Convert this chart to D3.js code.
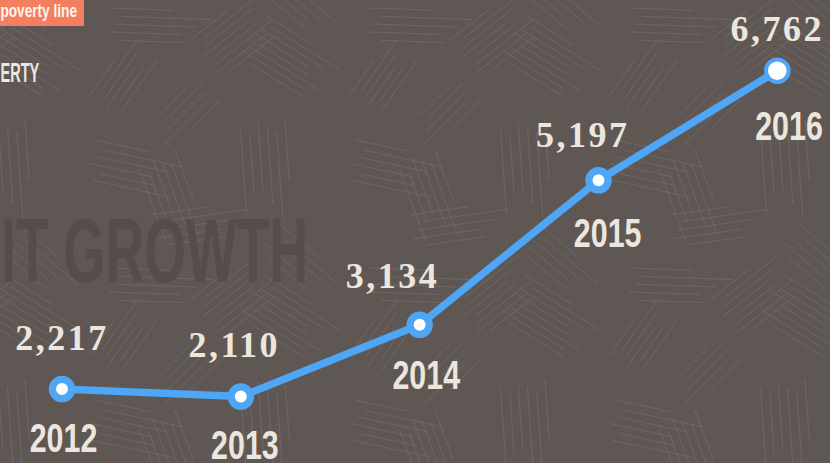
<!DOCTYPE html>
<html>
<head>
<meta charset="utf-8">
<script src="https://cdn.jsdelivr.net/npm/d3@7"></script>
<style>
  html, body { margin: 0; padding: 0; background: #5f5754; }
  svg { display: block; }
</style>
</head>
<body>
<svg id="chart" width="830" height="463"></svg>
<script>
// ---- data ----
const years = ["2012", "2013", "2014", "2015", "2016"];
const values = [2217, 2110, 3134, 5197, 6762];
const valueLabels = ["2,217", "2,110", "3,134", "5,197", "6,762"];
const yearLabels = ["2012", "2013", "2014", "2015", "2016"];
const watermarkText = "IT GROWTH";
const headerTag = "poverty line";
const headerWord = "ERTY";

const W = 830, H = 463;
const svg = d3.select("#chart");

// ---- background texture (decoration) ----
const defs = svg.append("defs");
const T = 260;
const pat = defs.append("pattern")
  .attr("id", "tex").attr("patternUnits", "userSpaceOnUse")
  .attr("width", T).attr("height", T);
const clusters = [
  {x: 5, y: 15, len: 80, ang: 32, n: 8, gap: 7},
  {x: 110, y: 8, len: 90, ang: 2, n: 5, gap: 8},
  {x: 190, y: 40, len: 70, ang: -38, n: 8, gap: 7},
  {x: 25, y: 120, len: 85, ang: 86, n: 6, gap: 9},
  {x: 95, y: 140, len: 80, ang: 12, n: 6, gap: 8},
  {x: 90, y: 95, len: 60, ang: -55, n: 6, gap: 7},
  {x: 175, y: 150, len: 75, ang: 70, n: 6, gap: 8},
  {x: 150, y: 215, len: 85, ang: -8, n: 5, gap: 8},
  {x: 20, y: 225, len: 70, ang: 40, n: 5, gap: 8},
  {x: 220, y: 100, len: 60, ang: 135, n: 5, gap: 8}
];
clusters.forEach(c => {
  const a = c.ang * Math.PI / 180;
  const dx = Math.cos(a), dy = Math.sin(a);
  const nx = -dy, ny = dx;
  for (let i = 0; i < c.n; i++) {
    const shift = ((i * 5) % 3) * 6;
    const ox = c.x + nx * i * c.gap + dx * shift, oy = c.y + ny * i * c.gap + dy * shift;
    const l = c.len * (0.7 + 0.3 * ((i * 7) % 4) / 3);
    for (const sx of [-T, 0, T]) for (const sy of [-T, 0, T]) {
      pat.append("line")
        .attr("x1", ox + sx).attr("y1", oy + sy)
        .attr("x2", ox + sx + dx * l).attr("y2", oy + sy + dy * l)
        .attr("stroke", "#786f6b").attr("stroke-opacity", 0.6)
        .attr("stroke-width", 1);
    }
  }
});
svg.append("rect").attr("width", W).attr("height", H).attr("fill", "#5f5754");
svg.append("rect").attr("width", W).attr("height", H).attr("fill", "url(#tex)");

// ---- watermark & header fragments ----
svg.append("text")
  .attr("transform", "translate(1,282) scale(0.59,1)")
  .attr("text-anchor", "start")
  .attr("font-family", "Liberation Sans, Arial, sans-serif")
  .attr("font-weight", "bold").attr("font-size", 91)
  .attr("fill", "#554d4a")
  .text(watermarkText);

svg.append("rect").attr("x", 0).attr("y", 0).attr("width", 84).attr("height", 26)
  .attr("fill", "#f47e60");
svg.append("text")
  .attr("transform", "translate(77,17) scale(0.78,1)")
  .attr("text-anchor", "end")
  .attr("font-family", "Liberation Sans, Arial, sans-serif")
  .attr("font-weight", "bold").attr("font-size", 17.5)
  .attr("fill", "#fdf4ec")
  .text(headerTag);

svg.append("text")
  .attr("transform", "translate(0.5,81.5) scale(0.52,1)")
  .attr("text-anchor", "start")
  .attr("font-family", "Liberation Sans, Arial, sans-serif")
  .attr("font-weight", "bold").attr("font-size", 28)
  .attr("fill", "#ece8e2")
  .text(headerWord);

// ---- scales ----
const x = d3.scalePoint().domain(years).range([62, 777.3]);
const y = d3.scaleLinear().domain([0, 6762]).range([544.3, 70.7]);
const yearX = d3.scalePoint().domain(years).range([63.5, 789]);
const yearY = d3.scaleLinear().domain([0, 6762]).range([604.1, 140]);
const valY = d3.scaleLinear().domain([0, 6762]).range([501, 40.7]);

const pts = years.map((yr, i) => ({yr, v: values[i], i}));

// ---- line ----
const lineGen = d3.line().x(d => x(d.yr)).y(d => y(d.v));
svg.append("path").datum(pts)
  .attr("d", lineGen)
  .attr("fill", "none")
  .attr("stroke", "#4ea6f4")
  .attr("stroke-width", 7.5)
  .attr("stroke-linejoin", "round");

// ---- markers ----
const last = pts.length - 1;
svg.selectAll("circle.m").data(pts).enter().append("circle")
  .attr("class", "m")
  .attr("cx", d => x(d.yr)).attr("cy", d => y(d.v))
  .attr("r", d => d.i === last ? 11.3 : 9.6)
  .attr("fill", "#ffffff")
  .attr("stroke", "#4ea6f4")
  .attr("stroke-width", d => d.i === last ? 4 : 7.3);

// ---- value labels (nudged left where the outgoing segment rises) ----
function nudge(d) {
  if (d.i === last) return 0;
  const rise = Math.max(0, y(d.v) - y(values[d.i + 1]));
  return -0.0013 * rise * rise;
}
svg.selectAll("text.val").data(pts).enter().append("text")
  .attr("class", "val")
  .attr("x", d => x(d.yr) + nudge(d))
  .attr("y", d => valY(d.v))
  .attr("text-anchor", "middle")
  .attr("font-family", "Liberation Serif, 'Times New Roman', serif")
  .attr("font-weight", "bold").attr("font-size", 36)
  .attr("letter-spacing", 2.5)
  .attr("fill", "#ebe6de")
  .text(d => valueLabels[d.i]);

// ---- year labels ----
svg.selectAll("text.yr").data(pts).enter().append("text")
  .attr("class", "yr")
  .attr("transform", d => `translate(${yearX(d.yr)},${yearY(d.v)}) scale(0.76,1)`)
  .attr("text-anchor", "middle")
  .attr("font-family", "Liberation Sans, Arial, sans-serif")
  .attr("font-weight", "bold").attr("font-size", 40)
  .attr("fill", "#ebe6de")
  .text(d => yearLabels[d.i]);
</script>
</body>
</html>
